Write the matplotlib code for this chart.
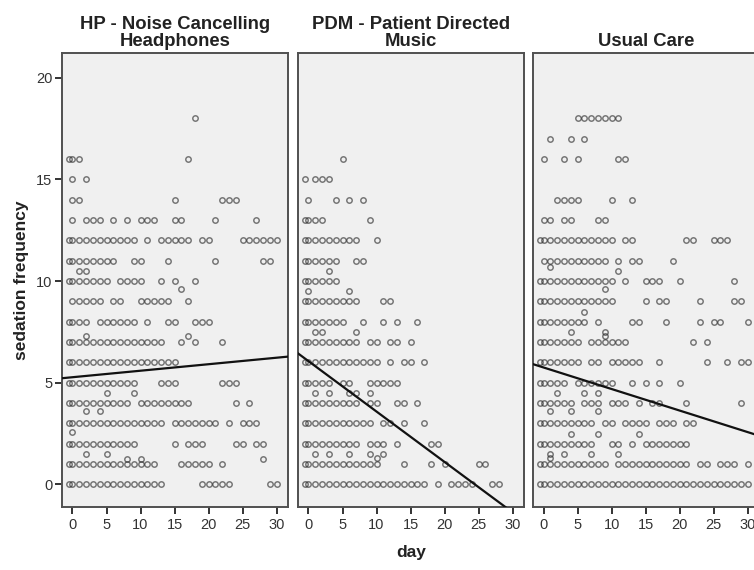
#!/usr/bin/env python3
"""Sedation frequency by day for three care groups, with linear fit per group."""

import matplotlib

matplotlib.use("Agg")
import matplotlib.pyplot as plt
import numpy as np

plt.rcParams["font.family"] = ["Liberation Sans", "DejaVu Sans"]

PANEL_TITLES = [
    "HP - Noise Cancelling\nHeadphones",
    "PDM - Patient Directed\nMusic",
    "Usual Care",
]
X_TICKS = [0, 5, 10, 15, 20, 25, 30]
Y_TICKS = [0, 5, 10, 15, 20]

# each row: (sedation frequency, days observed at that frequency)
HP_ROWS = [
    (18, [18]),
    (16, [-0.5, 0, 1, 17]),
    (15, [0, 2]),
    (14, [0, 1, 15, 22, 23, 24]),
    (13, [0, 2, 3, 4, 6, 8, 10, 11, 12, 15, 16, 21, 27]),
    (12, [-0.5, 0, 1, 2, 3, 4, 5, 6, 7, 8, 9, 11, 13, 14, 15, 16, 17, 19, 20,
          25, 26, 27, 28, 29, 30]),
    (11, [-0.5, 0, 1, 2, 3, 4, 5, 6, 9, 10, 14, 21, 28, 29]),
    (10.5, [1, 2]),
    (10, [-0.5, 0, 1, 2, 3, 4, 5, 7, 8, 9, 10, 13, 15, 18]),
    (9.6, [16]),
    (9, [0, 1, 2, 3, 4, 6, 7, 10, 11, 12, 13, 14, 17]),
    (8, [-0.5, 0, 1, 2, 4, 5, 6, 7, 8, 9, 11, 14, 15, 18, 19, 20]),
    (7.3, [2, 17]),
    (7, [-0.5, 0, 1, 2, 3, 4, 5, 6, 7, 8, 9, 10, 11, 12, 13, 16, 18, 22]),
    (6, [-0.5, 0, 1, 2, 3, 4, 5, 6, 7, 8, 9, 10, 11, 12, 13, 14, 15]),
    (5, [-0.5, 0, 1, 2, 3, 4, 5, 6, 7, 8, 9, 13, 14, 15, 22, 23, 24]),
    (4.5, [5, 9]),
    (4, [-0.5, 0, 1, 2, 3, 4, 5, 6, 7, 8, 10, 11, 12, 13, 14, 15, 16, 17, 24, 26]),
    (3.6, [2, 4]),
    (3, [-0.5, 0, 1, 2, 3, 4, 5, 6, 7, 8, 9, 10, 11, 12, 13, 15, 16, 17, 18, 19,
         20, 21, 23, 25, 26, 27]),
    (2.6, [0]),
    (2, [-0.5, 0, 1, 2, 3, 4, 5, 6, 7, 8, 9, 15, 17, 18, 19, 24, 25, 27, 28]),
    (1.5, [2, 5]),
    (1.25, [8, 10, 28]),
    (1, [-0.5, 0, 1, 2, 3, 4, 5, 6, 7, 8, 9, 10, 11, 12, 16, 17, 18, 19, 20, 22]),
    (0, [-0.5, 0, 1, 2, 3, 4, 5, 6, 7, 8, 9, 10, 11, 12, 13, 19, 20, 21, 22, 23,
         29, 30]),
]

PDM_ROWS = [
    (16, [5]),
    (15, [-0.5, 1, 2, 3]),
    (14, [0, 4, 6, 8]),
    (13, [-0.5, 0, 1, 2, 9]),
    (12, [-0.5, 0, 1, 2, 3, 4, 5, 6, 7, 10]),
    (11, [-0.5, 0, 1, 2, 3, 4, 7, 8]),
    (10.5, [3]),
    (10, [-0.5, 0, 1, 2, 3, 4]),
    (9.5, [0, 6]),
    (9, [-0.5, 0, 1, 2, 3, 4, 5, 6, 7, 11, 12]),
    (8, [-0.5, 0, 1, 2, 3, 4, 5, 8, 11, 13, 16]),
    (7.5, [1, 2, 7]),
    (7, [-0.5, 0, 1, 2, 3, 4, 5, 6, 7, 9, 10, 12, 13, 15]),
    (6, [-0.5, 0, 1, 2, 3, 4, 5, 6, 7, 8, 9, 10, 12, 14, 15, 17]),
    (5, [-0.5, 0, 1, 2, 3, 5, 6, 9, 10, 11, 12, 13]),
    (4.5, [1, 3, 6, 7, 9]),
    (4, [-0.5, 0, 1, 2, 3, 4, 5, 6, 7, 9, 10, 13, 14, 16]),
    (3, [-0.5, 0, 1, 2, 3, 4, 5, 6, 7, 8, 9, 11, 12, 14, 17]),
    (2, [-0.5, 0, 1, 2, 3, 4, 5, 6, 7, 9, 10, 11, 13, 18, 19]),
    (1.5, [1, 3, 6, 9, 11]),
    (1.3, [10]),
    (1, [-0.5, 0, 1, 2, 3, 4, 5, 6, 7, 8, 9, 10, 14, 18, 20, 25, 26]),
    (0, [-0.5, 0, 1, 2, 3, 4, 5, 6, 7, 8, 9, 10, 11, 12, 13, 14, 15, 16, 17, 19,
         21, 22, 23, 24, 27, 28]),
]

UC_ROWS = [
    (18, [5, 6, 7, 8, 9, 10, 11]),
    (17, [1, 4, 6]),
    (16, [0, 3, 5, 11, 12]),
    (14, [2, 3, 4, 5, 10, 13]),
    (13, [0, 1, 3, 4, 8, 9]),
    (12, [-0.5, 0, 1, 2, 3, 4, 5, 6, 7, 8, 9, 10, 12, 13, 21, 22, 25, 26, 27]),
    (11, [0, 1, 2, 3, 4, 5, 6, 7, 8, 9, 11, 13, 14, 19]),
    (10.7, [1]),
    (10.5, [11]),
    (10, [-0.5, 0, 1, 2, 3, 4, 5, 6, 7, 8, 9, 10, 12, 15, 16, 17, 20, 28]),
    (9.6, [9]),
    (9, [-0.5, 0, 1, 2, 3, 4, 5, 6, 7, 8, 9, 10, 15, 17, 18, 23, 28, 29]),
    (8.5, [6]),
    (8, [-0.5, 0, 1, 2, 3, 4, 5, 6, 8, 13, 14, 18, 23, 25, 26, 30]),
    (7.5, [4, 9]),
    (7.3, [9]),
    (7, [-0.5, 0, 1, 2, 3, 4, 5, 7, 8, 9, 10, 11, 12, 22, 24]),
    (6, [-0.5, 0, 1, 2, 3, 4, 5, 7, 8, 10, 11, 12, 13, 14, 17, 24, 27, 29, 30]),
    (5, [-0.5, 0, 1, 2, 3, 5, 6, 7, 8, 9, 10, 13, 15, 17, 20]),
    (4.5, [2, 6, 8]),
    (4, [-0.5, 0, 1, 2, 3, 4, 6, 7, 8, 10, 11, 12, 14, 16, 17, 21, 29]),
    (3.6, [1, 4, 8]),
    (3, [-0.5, 0, 1, 2, 3, 4, 5, 6, 7, 9, 10, 12, 13, 14, 15, 17, 18, 19, 21, 22]),
    (2.5, [4, 8, 14]),
    (2, [-0.5, 0, 1, 2, 3, 4, 5, 6, 7, 10, 11, 13, 15, 16, 17, 18, 19, 20, 21]),
    (1.5, [1, 3, 7, 11]),
    (1.3, [1]),
    (1, [-0.5, 0, 1, 2, 3, 4, 5, 6, 7, 8, 9, 11, 12, 13, 14, 15, 16, 17, 18, 19,
         20, 21, 23, 24, 26, 27, 28, 30]),
    (0, [-0.5, 0, 1, 2, 3, 4, 5, 6, 7, 8, 9, 10, 11, 12, 13, 14, 15, 16, 17, 18,
         19, 20, 21, 22, 23, 24, 25, 26, 27, 28, 29, 30]),
]

# fitted lines: (intercept, slope)
FIT_INTERCEPTS = [5.27, 6.06, 5.75]
FIT_SLOPES = [0.032, -0.248, -0.106]

XLIM = (-1.5, 31.7)
YLIM = (-1.1, 21.2)
BG = "#f0f0f0"
EDGE = "#505050"


def rows_to_xy(rows):
    xs, ys = [], []
    for freq, days in rows:
        xs.extend(days)
        ys.extend([freq] * len(days))
    return np.array(xs, dtype=float), np.array(ys, dtype=float)


def draw_panel(ax, rows, title, intercept, slope, show_y):
    ax.set_facecolor(BG)
    x, y = rows_to_xy(rows)
    ax.plot(x, y, "o", ms=3.9, mfc="none", mec="#303030", mew=1.05, alpha=0.65,
            zorder=2)
    line_x = np.array(XLIM)
    ax.plot(line_x, intercept + slope * line_x, color="#111111", lw=1.6, zorder=3)

    ax.set_xlim(*XLIM)
    ax.set_ylim(*YLIM)
    ax.set_xticks(X_TICKS)
    ax.set_xticklabels([str(t) for t in X_TICKS], fontsize=10.5, color="#333333")
    ax.tick_params(axis="x", length=5, width=1.4, color="#333333", pad=3)
    if show_y:
        ax.set_yticks(Y_TICKS)
        ax.set_yticklabels([str(t) for t in Y_TICKS], fontsize=10.5, color="#333333")
        ax.tick_params(axis="y", length=5, width=1.4, color="#333333", pad=2)
    else:
        ax.set_yticks([])
    for spine in ax.spines.values():
        spine.set_color(EDGE)
        spine.set_linewidth(1.4)
    ax.set_title(title, fontsize=13.3, fontweight="bold", color="#222222",
                 pad=5, linespacing=1.0)


def main():
    fig = plt.figure(figsize=(7.54, 5.70), dpi=100)
    width, height, bottom = 0.2997, 0.7954, 0.111
    lefts = [0.0826, 0.3956, 0.7073]
    all_rows = [HP_ROWS, PDM_ROWS, UC_ROWS]

    for i, (left, rows, title) in enumerate(zip(lefts, all_rows, PANEL_TITLES)):
        ax = fig.add_axes([left, bottom, width, height])
        draw_panel(ax, rows, title, FIT_INTERCEPTS[i], FIT_SLOPES[i], show_y=(i == 0))

    fig.text(0.028, 0.509, "sedation frequency", rotation=90, ha="center",
             va="center", fontsize=12.5, fontweight="bold", color="#222222")
    fig.text(0.545, 0.030, "day", ha="center", va="center", fontsize=12.5,
             fontweight="bold", color="#222222")

    fig.savefig("out.png", dpi=100, facecolor="white")
    plt.close(fig)


if __name__ == "__main__":
    main()
